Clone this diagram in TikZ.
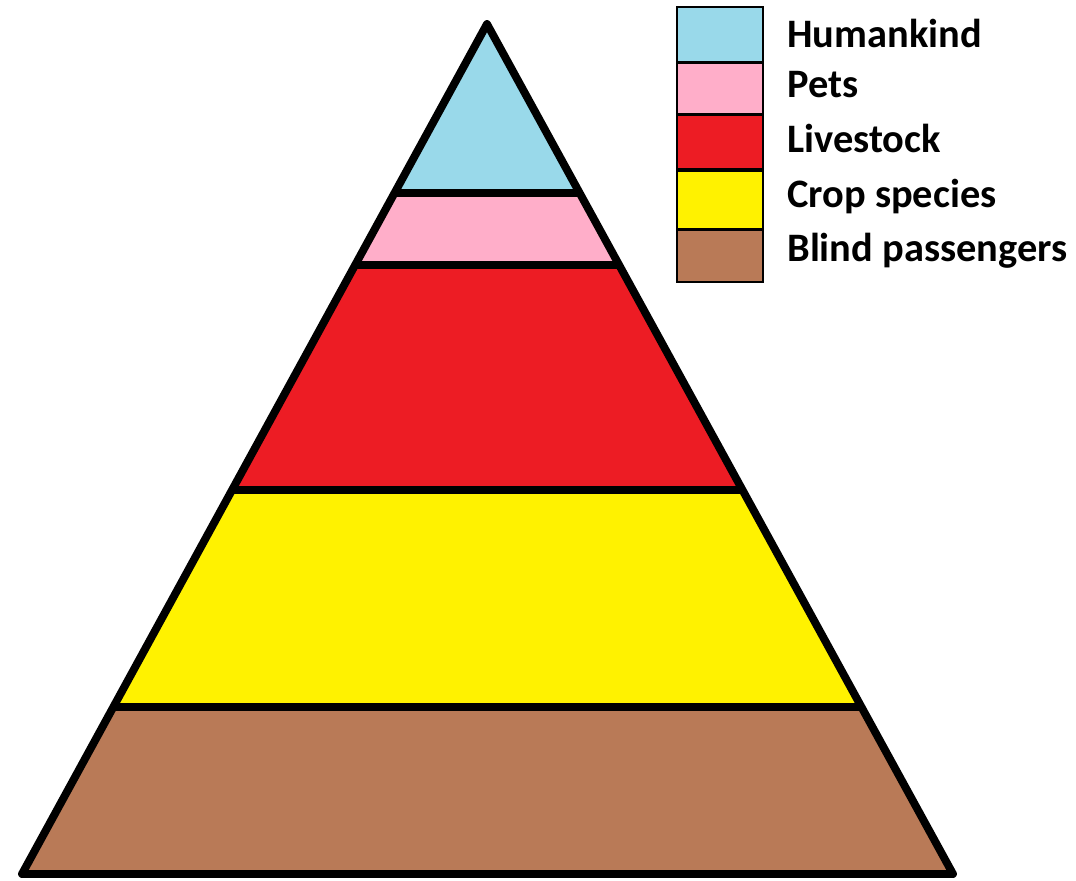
\documentclass[tikz,border=0pt]{standalone}
\usepackage{fontspec}
\setmainfont{Carlito}
\usetikzlibrary{positioning}

\definecolor{skyblue}{RGB}{153,217,234}
\definecolor{petpink}{RGB}{255,174,201}
\definecolor{stockred}{RGB}{237,28,36}
\definecolor{cropyellow}{RGB}{255,242,0}
\definecolor{soilbrown}{RGB}{185,122,87}

\begin{document}
\begin{tikzpicture}[x=0.02cm, y=-0.02cm,
    outline/.style={line width=4.5pt, line join=round},
    divider/.style={line width=5pt},
    swatch/.style={draw, line width=0.9pt, minimum width=1.72cm, inner sep=0pt},
    legendtext/.style={anchor=base west, inner sep=0pt, font=\fontsize{23}{23}\selectfont\bfseries}]
    \useasboundingbox (0,0) rectangle (1076,881);

    % Corners of the pyramid
    \coordinate (apex) at (487,24);
    \coordinate (left) at (22,874);
    \coordinate (right) at (953,874);

    % Bands
    \begin{scope}
        \clip (apex) -- (left) -- (right) -- cycle;
        \fill[skyblue] (0,0) rectangle (1076,193);
        \fill[petpink] (0,193) rectangle (1076,265);
        \fill[stockred] (0,265) rectangle (1076,490);
        \fill[cropyellow] (0,490) rectangle (1076,707);
        \fill[soilbrown] (0,707) rectangle (1076,881);
        \foreach \y in {193,265,490,707}
            \draw[divider] (0,\y) -- (1076,\y);
    \end{scope}
    \draw[outline] (apex) -- (left) -- (right) -- cycle;

    % Legend
    \node (humankind) [swatch, fill=skyblue, minimum height=1.1cm] at (720,34.5) {};
    \node (pets) [swatch, fill=petpink, minimum height=1.0cm, below=0pt of humankind] {};
    \node (livestock) [swatch, fill=stockred, minimum height=1.08cm, below=0pt of pets] {};
    \node (crops) [swatch, fill=cropyellow, minimum height=1.16cm, below=0pt of livestock] {};
    \node (blind) [swatch, fill=soilbrown, minimum height=1.04cm, below=0pt of crops] {};

    \node (thumankind) [legendtext] at (787,48) {Humankind};
    \node (tpets) [legendtext] at (787,98) {Pets};
    \node (tlivestock) [legendtext] at (787,153) {Livestock};
    \node (tcrops) [legendtext] at (787,208) {Crop species};
    \node (tblind) [legendtext] at (787,262) {Blind passengers};
\end{tikzpicture}
\end{document}
